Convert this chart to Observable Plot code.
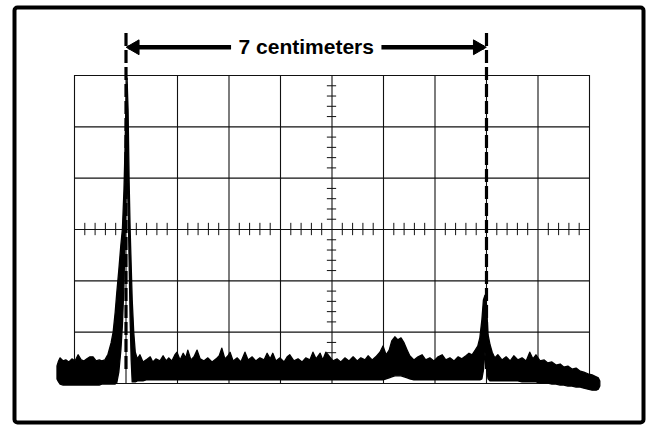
<!DOCTYPE html>
<html>
<head>
<meta charset="utf-8">
<script src="https://cdn.jsdelivr.net/npm/d3@7"></script>
<script src="https://cdn.jsdelivr.net/npm/@observablehq/plot@0.6"></script>
<style>
  html, body { margin: 0; padding: 0; background: #fff; }
  #chart { width: 650px; height: 426px; }
</style>
</head>
<body>
<div id="chart"></div>
<script>
// Horizontal position in centimeters (1 graticule division = 1 cm), vertical in divisions
const traceX = [
  -0.33,-0.30,-0.27,-0.21,-0.16,-0.10,-0.04,0.02,0.08,0.14,0.19,0.25,0.31,0.37,0.43,0.49,0.54,0.60,0.66,0.72,
  0.76,0.80,0.83,0.87,0.91,0.94,0.97,0.99,1.01,1.03,1.05,1.07,1.09,1.11,1.13,1.16,1.19,1.23,1.28,1.34,
  1.40,1.48,1.53,1.59,1.67,1.73,1.79,1.84,1.90,1.96,2.00,2.06,2.12,2.17,2.21,2.27,2.33,2.39,2.45,2.52,
  2.60,2.68,2.76,2.82,2.87,2.93,2.99,3.03,3.09,3.17,3.24,3.32,3.38,3.46,3.53,3.61,3.69,3.75,3.81,3.86,
  3.92,4.00,4.08,4.14,4.19,4.27,4.35,4.43,4.50,4.58,4.64,4.70,4.78,4.83,4.89,4.95,5.03,5.11,5.18,5.26,
  5.34,5.42,5.50,5.57,5.65,5.71,5.79,5.86,5.94,6.00,6.06,6.12,6.17,6.23,6.29,6.35,6.41,6.47,6.52,6.60,
  6.68,6.76,6.83,6.91,6.99,7.07,7.15,7.22,7.30,7.38,7.46,7.53,7.61,7.67,7.73,7.79,7.84,7.88,7.92,7.95,
  7.98,8.01,8.04,8.08,8.12,8.17,8.23,8.31,8.39,8.47,8.54,8.62,8.70,8.78,8.85,8.91,8.97,9.05,9.13,9.20,
  9.28,9.36,9.44,9.51,9.59,9.67,9.75,9.83,9.90,9.98,10.06,10.14,10.18,10.21
];
const traceTop = [
  0.33,0.43,0.49,0.43,0.45,0.41,0.47,0.43,0.55,0.45,0.43,0.47,0.51,0.51,0.43,0.45,0.43,0.45,0.56,0.78,
  0.99,1.38,1.75,2.20,2.69,3.00,3.76,4.54,5.51,5.94,5.32,3.95,3.00,2.30,1.62,0.99,0.60,0.47,0.55,0.41,
  0.45,0.51,0.41,0.47,0.43,0.53,0.43,0.49,0.43,0.55,0.60,0.45,0.58,0.49,0.64,0.45,0.51,0.64,0.47,0.43,
  0.49,0.41,0.47,0.53,0.68,0.47,0.53,0.60,0.43,0.49,0.41,0.60,0.45,0.51,0.43,0.49,0.45,0.58,0.47,0.58,
  0.43,0.49,0.41,0.51,0.55,0.43,0.47,0.41,0.49,0.45,0.60,0.47,0.58,0.45,0.60,0.53,0.43,0.47,0.41,0.49,
  0.43,0.51,0.43,0.49,0.45,0.53,0.45,0.51,0.60,0.72,0.55,0.64,0.82,0.90,0.84,0.88,0.78,0.64,0.53,0.45,
  0.51,0.55,0.45,0.49,0.43,0.51,0.55,0.45,0.49,0.43,0.51,0.47,0.53,0.58,0.55,0.64,0.72,0.88,1.23,1.62,
  1.71,1.52,0.94,0.74,0.60,0.49,0.55,0.45,0.51,0.43,0.53,0.45,0.49,0.43,0.60,0.47,0.55,0.43,0.45,0.39,
  0.41,0.35,0.37,0.31,0.33,0.27,0.29,0.23,0.21,0.18,0.16,0.12,0.10,0.04
];
const traceBottom = [
  0.08,0.02,-0.02,-0.04,-0.04,-0.04,-0.04,-0.04,-0.04,-0.04,-0.04,-0.04,-0.04,-0.04,-0.04,-0.04,-0.02,-0.02,-0.02,-0.02,
  -0.02,-0.02,0.00,0.21,0.64,1.13,1.91,2.79,3.66,4.05,3.47,2.40,1.23,0.45,0.02,0.02,0.02,0.04,0.04,0.04,
  0.06,0.06,0.06,0.06,0.06,0.06,0.06,0.06,0.06,0.06,0.06,0.06,0.06,0.06,0.06,0.06,0.06,0.06,0.06,0.06,
  0.06,0.06,0.06,0.06,0.06,0.06,0.06,0.06,0.06,0.06,0.06,0.06,0.06,0.06,0.06,0.06,0.06,0.06,0.06,0.06,
  0.06,0.06,0.06,0.06,0.06,0.06,0.06,0.06,0.06,0.06,0.06,0.06,0.06,0.06,0.06,0.06,0.06,0.06,0.06,0.06,
  0.06,0.06,0.06,0.06,0.06,0.06,0.06,0.06,0.06,0.06,0.08,0.10,0.12,0.14,0.14,0.14,0.12,0.10,0.08,0.06,
  0.06,0.06,0.06,0.06,0.06,0.06,0.06,0.06,0.06,0.06,0.06,0.06,0.06,0.06,0.06,0.06,0.06,0.06,0.08,0.25,
  0.60,0.29,0.08,0.04,0.04,0.04,0.04,0.04,0.04,0.04,0.04,0.04,0.02,0.02,0.02,0.02,0.02,0.00,0.00,0.00,
  -0.02,-0.02,-0.04,-0.04,-0.06,-0.06,-0.08,-0.08,-0.10,-0.12,-0.14,-0.14,-0.12,-0.06
];

// Graticule: 10 x 6 divisions, 5 minor ticks per division on the center lines
const xDivisions = d3.range(0, 11);
const yDivisions = d3.range(0, 7);
const xMinor = d3.range(1, 50).filter(k => k % 5 !== 0).map(k => k / 5);
const yMinor = d3.range(1, 30).filter(k => k % 5 !== 0).map(k => k / 5);

// Annotation: markers at the two peaks, 7 cm apart
const markerX = [1, 8];
const markerTop = 6.82;
const arrowY = 6.55;
const label = "7 centimeters";
const labelHalfGap = 1.46; // half width of label gap, in cm

const trace = traceX.map((x, i) => ({x, top: traceTop[i], bottom: traceBottom[i]}));
const mid = (markerX[0] + markerX[1]) / 2;
const shafts = [
  {x1: markerX[0] + 0.05, x2: mid - labelHalfGap},
  {x1: mid + labelHalfGap, x2: markerX[1] - 0.05}
];
const heads = [
  {x: markerX[0] + 0.17, rotate: -90},
  {x: markerX[1] - 0.17, rotate: 90}
];

const ink = "#111";

const chart = Plot.plot({
  width: 650,
  height: 426,
  marginLeft: 74,
  marginRight: 61,
  marginTop: 75,
  marginBottom: 43,
  x: {domain: [0, 10], axis: null},
  y: {domain: [0, 6], axis: null},
  style: {background: "#fff"},
  marks: [
    // outer panel border
    Plot.frame({stroke: "#000", strokeWidth: 4, rx: 3,
      insetLeft: -60, insetRight: -54, insetTop: -68, insetBottom: -39}),
    // graticule
    Plot.ruleX(xDivisions, {y1: 0, y2: 6, stroke: ink, strokeWidth: 1.1}),
    Plot.ruleY(yDivisions, {x1: 0, x2: 10, stroke: ink, strokeWidth: 1.1}),
    Plot.ruleX(xMinor, {y1: 3 - 0.12, y2: 3 + 0.12, stroke: ink, strokeWidth: 1}),
    Plot.ruleY(yMinor, {x1: 5 - 0.09, x2: 5 + 0.09, stroke: ink, strokeWidth: 1}),
    // trace
    Plot.areaY(trace, {x: "x", y1: "bottom", y2: "top", fill: "#000", stroke: "#000",
      strokeWidth: 1.3, strokeLinejoin: "round", curve: "linear"}),
    // dashed markers
    Plot.ruleX(markerX, {y1: markerTop, y2: 0.2, stroke: "#000", strokeWidth: 3.2,
      strokeDasharray: "13,4"}),
    // arrows
    Plot.link(shafts, {x1: "x1", x2: "x2", y1: arrowY, y2: arrowY, stroke: "#000", strokeWidth: 4.5}),
    Plot.dot(heads, {x: "x", y: arrowY, rotate: "rotate", symbol: "triangle", r: 5.5,
      fill: "#000", stroke: "#000", strokeWidth: 1}),
    Plot.text([label], {x: mid, y: arrowY, text: d => d, fontSize: 21, fontWeight: "bold",
      fontFamily: "Liberation Sans, Arial, sans-serif", fill: "#000"})
  ]
});

document.getElementById("chart").appendChild(chart);
</script>
</body>
</html>
